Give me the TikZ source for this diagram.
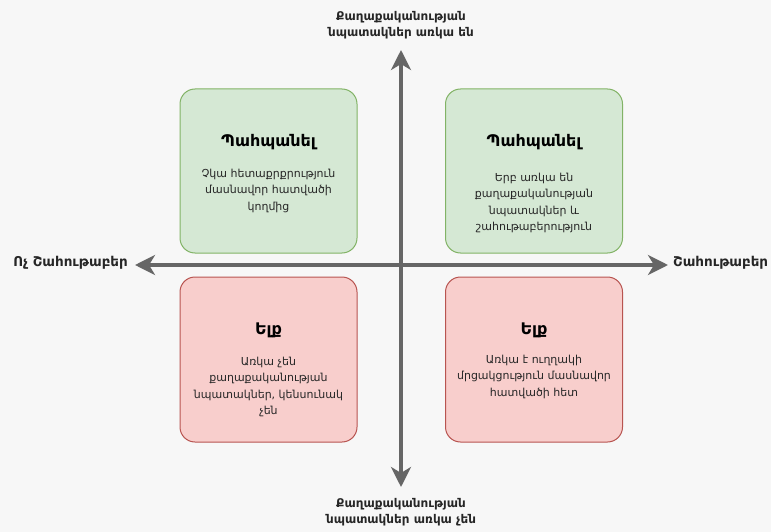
\documentclass[tikz,border=0pt]{standalone}
\usepackage{fontspec}
\setmainfont{DejaVu Sans}
\usetikzlibrary{arrows.meta}
\definecolor{bg}{HTML}{F7F7F7}
\definecolor{axisc}{HTML}{666666}
\definecolor{gfill}{HTML}{D5E8D4}
\definecolor{gline}{HTML}{82B366}
\definecolor{rfill}{HTML}{F8CECC}
\definecolor{rline}{HTML}{B85450}
\tikzset{
  quad/.style={rounded corners=15pt, line width=1pt, minimum width=177pt, minimum height=164pt, inner sep=0pt},
  goodbox/.style={quad, draw=gline, fill=gfill},
  badbox/.style={quad, draw=rline, fill=rfill},
  title/.style={font=\fontsize{16}{18}\selectfont\bfseries, inner sep=0pt, text=black},
  body/.style={font=\fontsize{11}{16.3}\selectfont, align=center, inner sep=0pt, anchor=north, text=black!85},
  axlabel/.style={font=\fontsize{13.5}{16.3}\selectfont\bfseries, align=center, inner sep=0pt, text=black!85},
  vlabel/.style={axlabel, font=\fontsize{12}{16.3}\selectfont\bfseries},
  axis/.style={draw=axisc, line width=3.5pt, -{Stealth[length=20pt, width=20pt, inset=6pt]}}
}
\begin{document}
\begin{tikzpicture}[x=1pt, y=-1pt]
\path[fill=bg] (0,0) rectangle (771,532);
\useasboundingbox (0,0) rectangle (771,532);

\node[goodbox] (tl) at (268.5,171) {};
\node[goodbox] (tr) at (534,171) {};
\node[badbox, minimum height=165pt] (bl) at (268.5,359.5) {};
\node[badbox, minimum height=165pt] (br) at (534,359.5) {};

\coordinate (O) at (401,265);
\coordinate (top) at (401,50);
\coordinate (bot) at (401,487);
\coordinate (lft) at (135,265);
\coordinate (rgt) at (668,265);
\draw[axis] (O) -- (top);
\draw[axis] (O) -- (bot);
\draw[axis] (O) -- (lft);
\draw[axis] (O) -- (rgt);

\node[title] (tlt) at (268.5,142) {Պահպանել};
\node[body] (tlb) at (268.5,169) {Չկա հետաքրքրություն\\մասնավոր հատվածի\\կողմից};
\node[title] (trt) at (534,142) {Պահպանել};
\node[body] (trb) at (534,173) {Երբ առկա են\\քաղաքականության\\նպատակներ և\\շահութաբերություն};
\node[title] (blt) at (268.5,330) {Ելք};
\node[body] (blb) at (268.5,357) {Առկա չեն\\քաղաքականության\\նպատակներ, կենսունակ\\չեն};
\node[title] (brt) at (534,330) {Ելք};
\node[body] (brb) at (534,355) {Առկա է ուղղակի\\մրցակցություն մասնավոր\\հատվածի հետ};

\node[vlabel] (toplab) at (401,25) {Քաղաքականության\\նպատակներ առկա են};
\node[vlabel] (botlab) at (401,512) {Քաղաքականության\\նպատակներ առկա չեն};
\node[axlabel, anchor=east] (lftlab) at (128,263) {Ոչ Շահութաբեր};
\node[axlabel, anchor=west] (rgtlab) at (673,263) {Շահութաբեր};
\end{tikzpicture}
\end{document}
